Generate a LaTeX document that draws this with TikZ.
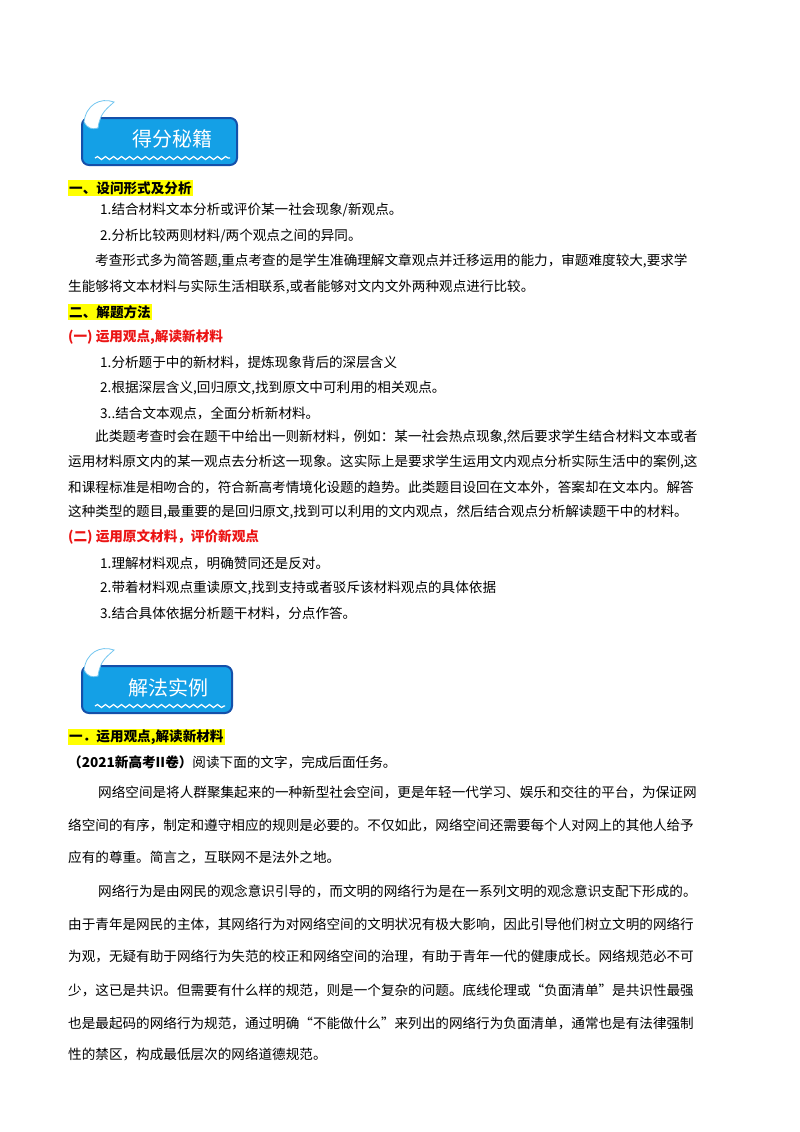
\documentclass[tikz,border=0pt]{standalone}
\usepackage{fontspec}
\setmainfont{Noto Sans CJK SC}
\usetikzlibrary{decorations.pathmorphing}
\definecolor{bannerblue}{RGB}{20,160,230}
\definecolor{bannerdark}{RGB}{20,80,170}
\definecolor{hl}{RGB}{255,255,0}
\definecolor{redh}{RGB}{235,20,20}
\begin{document}
\begin{tikzpicture}[x=1pt,y=-1pt,
  txt/.style={anchor=west,inner sep=0pt,font=\fontsize{13.6}{14}\selectfont},
  head/.style={txt,fill=hl,inner sep=1pt,font=\fontsize{13.6}{14}\selectfont\bfseries},
  redhead/.style={txt,text=redh,font=\fontsize{13.6}{14}\selectfont\bfseries},
  banner/.style={draw=bannerdark,line width=2pt,fill=bannerblue,rounded corners=7pt},
  bannertext/.style={text=white,font=\fontsize{20}{22}\selectfont}]
\useasboundingbox[fill=white] (0,0) rectangle (800,1132);
% banner 1
\draw[banner] (82,118) rectangle (237,165);
\node[bannertext] (b1) at (172,139) {得分秘籍};
\draw[white,line width=1.2pt,decorate,decoration={snake,amplitude=1.5pt,segment length=8pt}] (95,158) -- (230,158);
\fill[white,draw=bannerblue!60,line width=0.8pt] (84,122) .. controls (86,105) and (100,97) .. (114,102) .. controls (108,108) and (100,112) .. (98,128) .. controls (92,130) and (87,128) .. (84,122) -- cycle;
% section 1
\node[head] (h1) at (68,188) {一、设问形式及分析};
\node[txt] (l1) at (100,210) {1.结合材料文本分析或评价某一社会现象/新观点。};
\node[txt] (l2) at (100,236) {2.分析比较两则材料/两个观点之间的异同。};
\node[txt] (l3) at (95,261) {考查形式多为简答题,重点考查的是学生准确理解文章观点并迁移运用的能力，审题难度较大,要求学};
\node[txt] (l4) at (68,287) {生能够将文本材料与实际生活相联系,或者能够对文内文外两种观点进行比较。};
\node[head] (h2) at (68,312) {二、解题方法};
\node[redhead] (r1) at (68,337) {(一) 运用观点,解读新材料};
\node[txt] (m1) at (100,362) {1.分析题于中的新材料，提炼现象背后的深层含义};
\node[txt] (m2) at (100,388) {2.根据深层含义,回归原文,找到原文中可利用的相关观点。};
\node[txt] (m3) at (100,413) {3..结合文本观点，全面分析新材料。};
\node[txt] (p1) at (95,437) {此类题考查时会在题干中给出一则新材料，例如：某一社会热点现象,然后要求学生结合材料文本或者};
\node[txt] (p2) at (68,462) {运用材料原文内的某一观点去分析这一现象。这实际上是要求学生运用文内观点分析实际生活中的案例,这};
\node[txt] (p3) at (68,487) {和课程标准是相吻合的，符合新高考情境化设题的趋势。此类题目设回在文本外，答案却在文本内。解答};
\node[txt] (p4) at (68,512) {这种类型的题目,最重要的是回归原文,找到可以利用的文内观点，然后结合观点分析解读题干中的材料。};
\node[redhead] (r2) at (68,537) {(二) 运用原文材料，评价新观点};
\node[txt] (n1) at (100,563) {1.理解材料观点，明确赞同还是反对。};
\node[txt] (n2) at (100,588) {2.带着材料观点重读原文,找到支持或者驳斥该材料观点的具体依据};
\node[txt] (n3) at (100,613) {3.结合具体依据分析题干材料，分点作答。};
% banner 2
\draw[banner] (82,666) rectangle (232,713);
\node[bannertext] (b2) at (168,688) {解法实例};
\draw[white,line width=1.2pt,decorate,decoration={snake,amplitude=1.5pt,segment length=8pt}] (95,706) -- (225,706);
\fill[white,draw=bannerblue!60,line width=0.8pt] (84,670) .. controls (86,653) and (100,645) .. (114,650) .. controls (108,656) and (100,660) .. (98,676) .. controls (92,678) and (87,676) .. (84,670) -- cycle;
% section 2
\node[head] (h3) at (68,737) {一．运用观点,解读新材料};
\node[txt] (q0) at (68,762) {\textbf{（2021新高考II卷）}阅读下面的文字，完成后面任务。};
\node[txt] (q1) at (98,792) {网络空间是将人群聚集起来的一种新型社会空间，更是年轻一代学习、娱乐和交往的平台，为保证网};
\node[txt] (q2) at (68,825) {络空间的有序，制定和遵守相应的规则是必要的。不仅如此，网络空间还需要每个人对网上的其他人给予};
\node[txt] (q3) at (68,857) {应有的尊重。简言之，互联网不是法外之地。};
\node[txt] (q4) at (98,891) {网络行为是由网民的观念意识引导的，而文明的网络行为是在一系列文明的观念意识支配下形成的。};
\node[txt] (q5) at (68,924) {由于青年是网民的主体，其网络行为对网络空间的文明状况有极大影响，因此引导他们树立文明的网络行};
\node[txt] (q6) at (68,956) {为观，无疑有助于网络行为失范的校正和网络空间的治理，有助于青年一代的健康成长。网络规范必不可};
\node[txt] (q7) at (68,990) {少，这已是共识。但需要有什么样的规范，则是一个复杂的问题。底线伦理或“负面清单”是共识性最强};
\node[txt] (q8) at (68,1023) {也是最起码的网络行为规范，通过明确“不能做什么”来列出的网络行为负面清单，通常也是有法律强制};
\node[txt] (q9) at (68,1054) {性的禁区，构成最低层次的网络道德规范。};
\end{tikzpicture}
\end{document}
